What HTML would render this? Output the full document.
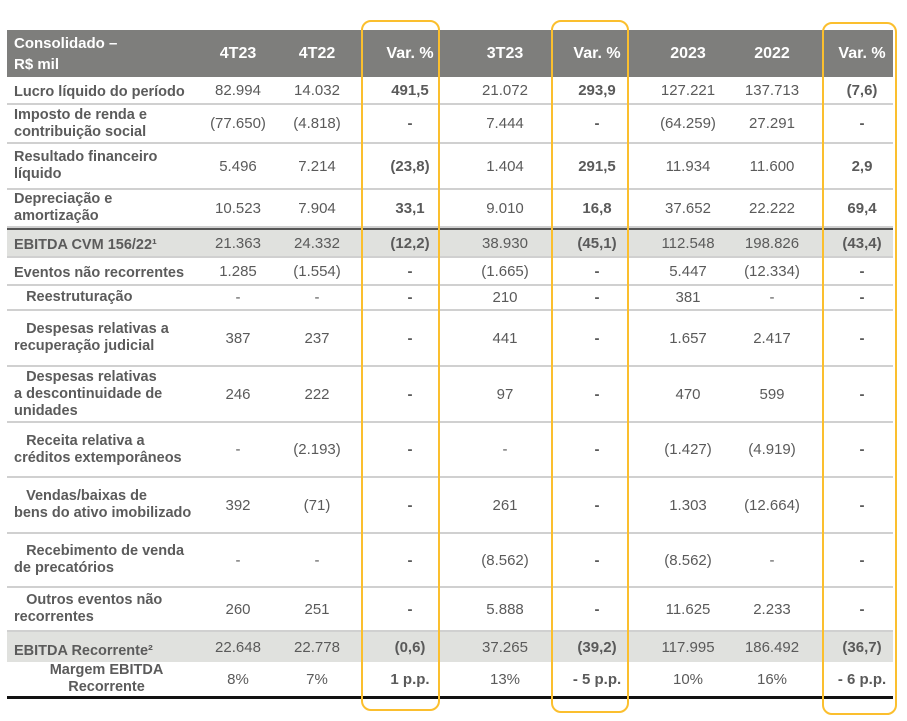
<!DOCTYPE html>
<html><head><meta charset="utf-8"><style>
body{margin:0;width:907px;height:721px;background:#fff;overflow:hidden;font-family:"Liberation Sans",sans-serif;}
.t{position:absolute;left:7px;width:886px;}
.r{position:absolute;left:0;width:886px;border-bottom:2px solid #d0d0d0;box-sizing:border-box;}
.c{position:absolute;top:0;height:100%;display:flex;align-items:center;font-size:15px;color:#5a5a5a;}
.l{left:7px;width:185px;font-weight:bold;color:#5b5b5b;line-height:17px;font-size:14.5px;}
.n{justify-content:center;}
.v{justify-content:center;font-weight:bold;}
.h .c{color:#fff;font-weight:bold;font-size:16px;}
.box{position:absolute;border:2px solid #fbbf2e;border-radius:10px;box-sizing:border-box;}
</style></head><body>
<div class="t">
<div class="r h" style="top:30px;height:47px;background:#7e7e7c;border:none">
 <div class="c l" style="color:#fff;line-height:21px;font-size:15px">Consolidado –<br>R$ mil</div>
 <div class="c n" style="left:188px;width:86px">4T23</div>
 <div class="c n" style="left:274px;width:72px">4T22</div>
 <div class="c v" style="left:368px;width:70px">Var. %</div>
 <div class="c n" style="left:438px;width:120px">3T23</div>
 <div class="c v" style="left:555px;width:70px">Var. %</div>
 <div class="c n" style="left:623px;width:116px">2023</div>
 <div class="c n" style="left:739px;width:52px">2022</div>
 <div class="c v" style="left:820px;width:70px">Var. %</div>
</div>
</div>
<div id="rows"></div>
<div class="box" style="left:361px;top:20px;width:79px;height:691px"></div>
<div class="box" style="left:551px;top:20px;width:78px;height:693px"></div>
<div class="box" style="left:822px;top:22px;width:75px;height:693px"></div>
<script>
const rows=[
["Lucro líquido do período",77,28,["82.994","14.032","491,5","21.072","293,9","127.221","137.713","(7,6)"],0,0],
["Imposto de renda e<br>contribuição social",105,39,["(77.650)","(4.818)","-","7.444","-","(64.259)","27.291","-"],0,0],
["Resultado financeiro<br>líquido",144,46,["5.496","7.214","(23,8)","1.404","291,5","11.934","11.600","2,9"],0,0],
["Depreciação e<br>amortização",190,38,["10.523","7.904","33,1","9.010","16,8","37.652","22.222","69,4"],0,0],
["EBITDA CVM 156/22¹",228,30,["21.363","24.332","(12,2)","38.930","(45,1)","112.548","198.826","(43,4)"],1,0],
["Eventos não recorrentes",258,28,["1.285","(1.554)","-","(1.665)","-","5.447","(12.334)","-"],0,0],
["&nbsp;&nbsp;&nbsp;Reestruturação",286,25,["-","-","-","210","-","381","-","-"],0,0],
["&nbsp;&nbsp;&nbsp;Despesas relativas a<br>recuperação judicial",311,56,["387","237","-","441","-","1.657","2.417","-"],0,0],
["&nbsp;&nbsp;&nbsp;Despesas relativas<br>a descontinuidade de<br>unidades",367,56,["246","222","-","97","-","470","599","-"],0,0],
["&nbsp;&nbsp;&nbsp;Receita relativa a<br>créditos extemporâneos",423,55,["-","(2.193)","-","-","-","(1.427)","(4.919)","-"],0,0],
["&nbsp;&nbsp;&nbsp;Vendas/baixas de<br>bens do ativo imobilizado",478,56,["392","(71)","-","261","-","1.303","(12.664)","-"],0,0],
["&nbsp;&nbsp;&nbsp;Recebimento de venda<br>de precatórios",534,54,["-","-","-","(8.562)","-","(8.562)","-","-"],0,0],
["&nbsp;&nbsp;&nbsp;Outros eventos não<br>recorrentes",588,44,["260","251","-","5.888","-","11.625","2.233","-"],0,0],
["EBITDA Recorrente²",632,30,["22.648","22.778","(0,6)","37.265","(39,2)","117.995","186.492","(36,7)"],1,0],
["<span style='display:block;text-align:center;width:200px'>Margem EBITDA<br>Recorrente</span>",662,37,["8%","7%","1 p.p.","13%","- 5 p.p.","10%","16%","- 6 p.p."],0,1]
];
const cols=[[188,86,"n"],[274,72,"n"],[368,70,"v"],[438,120,"n"],[555,70,"v"],[623,116,"n"],[739,52,"n"],[820,70,"v"]];
const names=["4t23","4t22","var1","3t23","var2","2023","2022","var3"];
const host=document.getElementById('rows');
rows.forEach((r,i)=>{
 const d=document.createElement('div');
 d.className='r';
 
 
 d.style.left='7px';d.style.top=r[1]+'px';d.style.height=r[2]+'px';
 if(r[4]){d.style.background='#e0e1de';}
 if(i===4){d.style.borderTop='2px solid #555';}
 if(i===14){d.style.borderBottom='3px solid #111';}
 if(i===13){d.style.borderBottom='none';}
 const lab=document.createElement('div');
 lab.className='c l';
 
 
 lab.innerHTML=r[0];
 if(i===0||i===5||i===4||i===13){lab.style.alignItems='flex-end';lab.style.paddingBottom='2px';lab.style.boxSizing='border-box';}
 d.appendChild(lab);
 r[3].forEach((v,j)=>{
  const c=document.createElement('div');
  c.className='c '+cols[j][2];
  
  
  c.style.left=cols[j][0]+'px';c.style.width=cols[j][1]+'px';
  c.textContent=v;
  d.appendChild(c);
 });
 host.appendChild(d);
});
</script>
</body></html>
